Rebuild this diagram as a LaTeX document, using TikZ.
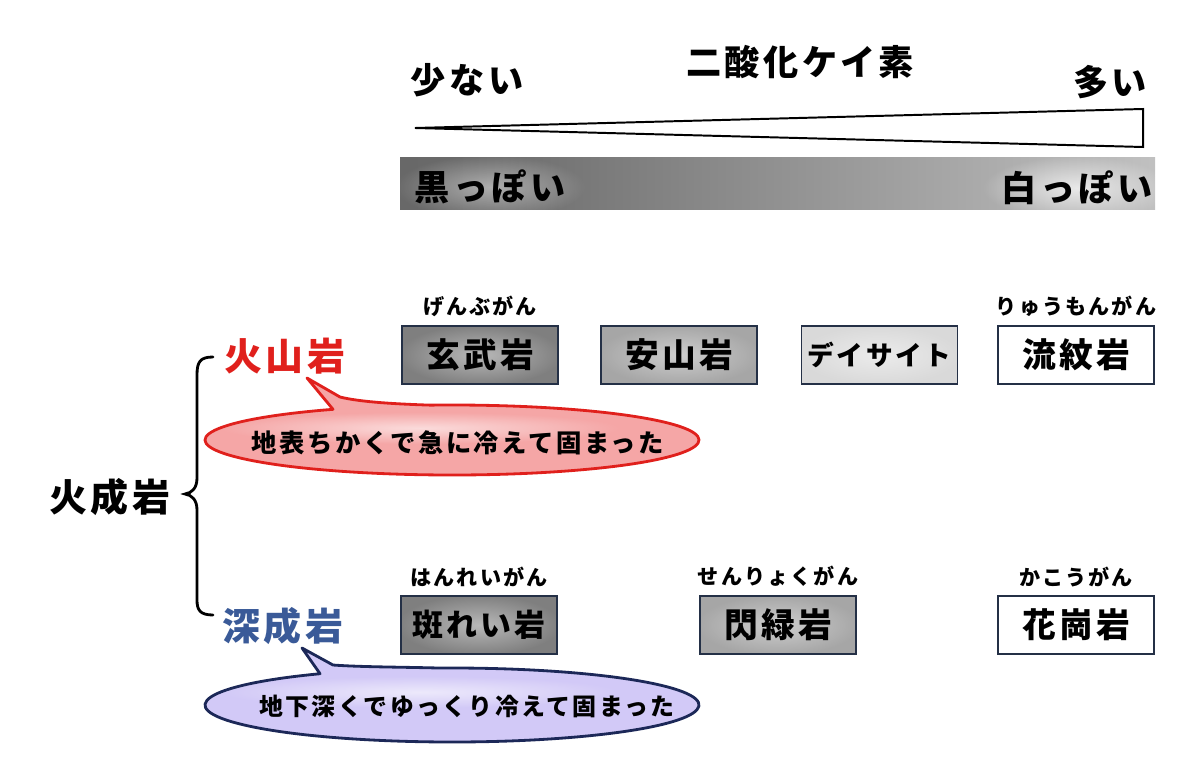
\documentclass[tikz,border=0pt]{standalone}
\usepackage{fontspec}
\newfontfamily\jp{Noto Sans CJK JP}[LetterSpace=10]
\usetikzlibrary{positioning,fadings,calc}

\definecolor{rockline}{HTML}{243046}
\definecolor{volcred}{HTML}{E0201C}
\definecolor{plutblue}{HTML}{3A5A98}
\definecolor{pinkfill}{HTML}{F5A6A6}
\definecolor{lilacfill}{HTML}{D2C9F7}
\definecolor{navyline}{HTML}{1C2858}
\definecolor{darkrock}{HTML}{7F7F7F}
\definecolor{midrock}{HTML}{A6A6A6}
\definecolor{lightrock}{HTML}{D9D9D9}

\tikzfading[name=glowfade, inner color=transparent!0, outer color=transparent!100]
\pgfdeclarehorizontalshading{darktolight}{100bp}{color(0bp)=(black!66); color(30bp)=(black!58); color(100bp)=(black!6)}

\tikzset{
  rock/.style={draw=rockline, line width=1.3pt, minimum width=3.9cm, minimum height=1.45cm,
    inner sep=0pt, font=\jp\bfseries\fontsize{24}{24}\selectfont},
  glow/.style={path picture={\fill[white, opacity=#1, path fading=glowfade]
    (path picture bounding box.center) ellipse (82 and 30);}},
  ruby/.style={inner sep=0pt, font=\jp\bfseries\fontsize{15}{15}\selectfont},
  big/.style={inner sep=0pt, font=\jp\bfseries\fontsize{25}{25}\selectfont},
  kind/.style={inner sep=0pt, font=\jp\bfseries\fontsize{27}{27}\selectfont},
  saying/.style={inner sep=0pt, font=\jp\bfseries\fontsize{#1}{#1}\selectfont},
}

\begin{document}
\begin{tikzpicture}[x=0.025cm, y=-0.025cm]
  \useasboundingbox (0,0) rectangle (1200,761);

  % silica scale
  \node[big] (sio) at (800,62) {二酸化ケイ素};
  \node[big] (few) at (467,80) {少ない};
  \node[big] (many) at (1110,82) {多い};
  \draw[line width=1.4pt, fill=white] (415,128) -- (1143,109) -- (1143,147) -- cycle;

  % colour bar
  \shade[shading=darktolight] (400,158) rectangle (1155,210);
  \fill[white, opacity=.45, path fading=glowfade] (490,187) ellipse (95 and 32);
  \fill[white, opacity=.7, path fading=glowfade] (1077,188) ellipse (95 and 32);
  \node[big] (dark) at (490,187) {黒っぽい};
  \node[big] (light) at (1077,188) {白っぽい};

  % volcanic rocks
  \node[rock, fill=darkrock, glow=.45] (gen) at (480,355) {玄武岩};
  \node[rock, fill=midrock, glow=.45] (an) at (679,355) {安山岩};
  \node[rock, fill=lightrock, glow=.5, font=\jp\bfseries\fontsize{19}{19}\selectfont] (dac) at (879.5,355) {デイサイト};
  \node[rock, fill=white] (ryu) at (1076,355) {流紋岩};
  \node[ruby, above=0.2cm of gen] (genr) {げんぶがん};
  \node[ruby, above=0.2cm of ryu] (ryur) {りゅうもんがん};

  % plutonic rocks
  \node[rock, fill=darkrock, glow=.45, font=\jp\bfseries\fontsize{22}{22}\selectfont] (han) at (479,625) {斑れい岩};
  \node[rock, fill=midrock, glow=.45] (sen) at (778,625) {閃緑岩};
  \node[rock, fill=white] (kako) at (1076,625) {花崗岩};
  \node[ruby, above=0.2cm of han] (hanr) {はんれいがん};
  \node[ruby, above=0.2cm of sen] (senr) {せんりょくがん};
  \node[ruby, above=0.2cm of kako] (kakor) {かこうがん};

  % igneous rocks and the brace
  \node[kind, text=volcred] (volc) at (285,356) {火山岩};
  \node[kind, text=plutblue] (plut) at (283,626) {深成岩};
  \node[kind] (ign) at (110,497) {火成岩};
  \draw[line width=2pt, line cap=round] (213,357) .. controls (200,357) and (197,362) .. (197,375)
    -- (197,478) .. controls (197,488) and (192,493) .. (185,494)
    .. controls (192,495) and (197,500) .. (197,510) -- (197,600)
    .. controls (197,610) and (200,615) .. (213,615);

  % speech bubbles
  \filldraw[draw=volcred, fill=pinkfill, line width=2pt, line join=round] (307,378) -- ($(452,440)+(241.2:247 and 35)$)
    arc[start angle=241.2, end angle=-95, x radius=247, y radius=35]
    .. controls (395,404) and (360,402) .. (340,397) -- cycle;
  \fill[white, opacity=.6, path fading=glowfade] (420,428) ellipse (200 and 16);
  \node[saying=18] (fast) at (458,443) {地表ちかくで急に冷えて固まった};

  \filldraw[draw=navyline, fill=lilacfill, line width=2pt, line join=round] (302,648) -- ($(452,705)+(237.7:247 and 37)$)
    arc[start angle=237.7, end angle=-92.8, x radius=247, y radius=37]
    .. controls (400,667) and (360,667) .. (333,665) -- cycle;
  \fill[white, opacity=.6, path fading=glowfade] (420,692) ellipse (200 and 16);
  \node[saying=17] (slow) at (467,706) {地下深くでゆっくり冷えて固まった};
\end{tikzpicture}
\end{document}
